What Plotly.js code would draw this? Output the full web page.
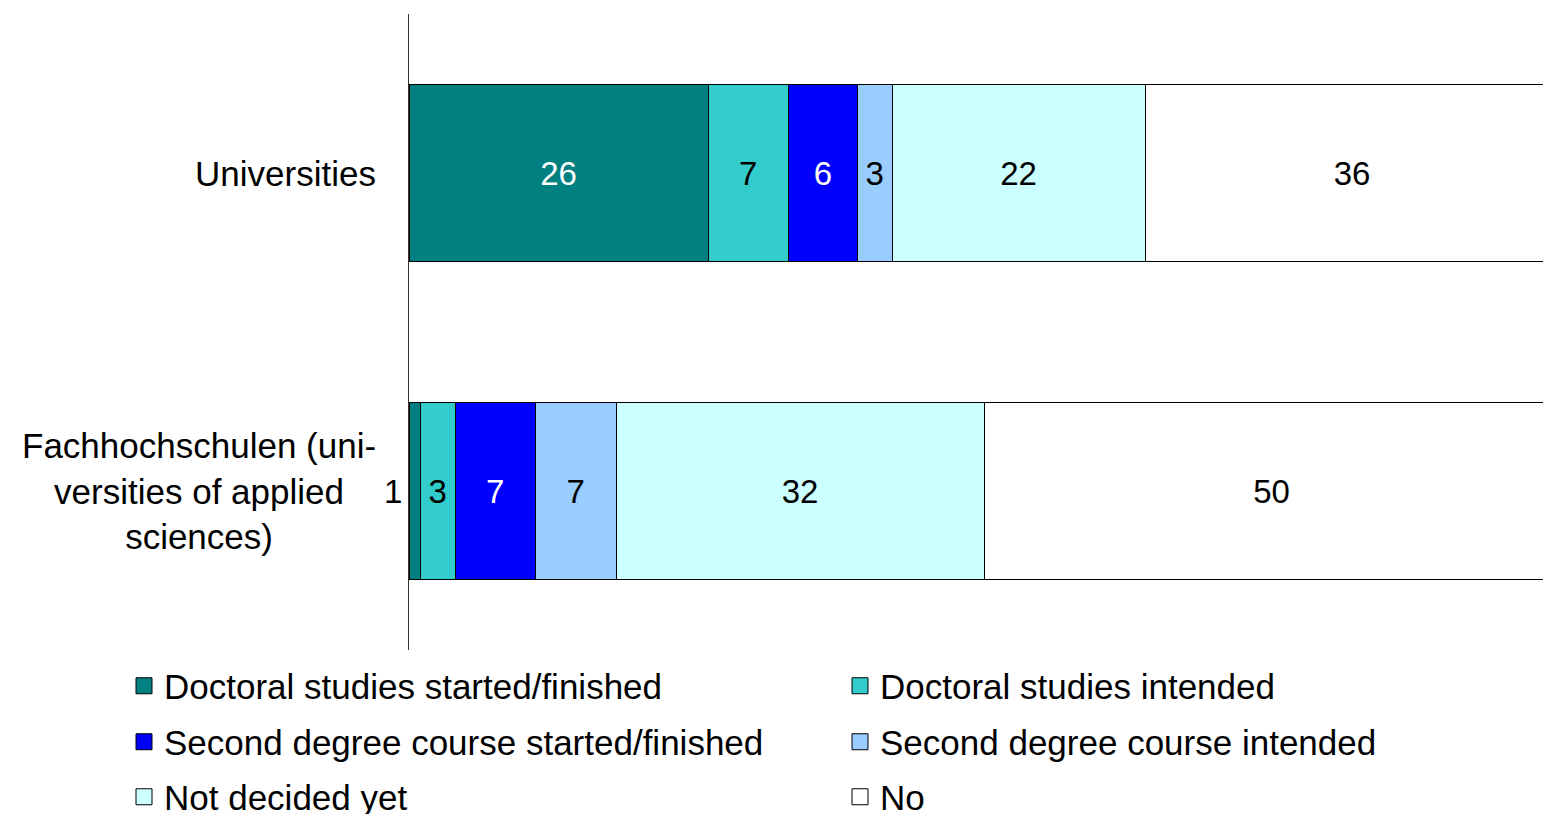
<!DOCTYPE html>
<html>
<head>
<meta charset="utf-8">
<script src="https://cdn.plot.ly/plotly-3.0.1.min.js"></script>
<style>html,body{margin:0;padding:0;background:#fff;}#chart{width:1543px;height:814px;}</style>
</head>
<body>
<div id="chart"></div>
<script>
const categories = ["Universities", "Fachhochschulen (uni-<br>versities of applied<br>sciences)"];
const seriesNames = ["Doctoral studies started/finished", "Doctoral studies intended",
  "Second degree course started/finished", "Second degree course intended",
  "Not decided yet", "No"];
const doctoralStarted = [26, 1];
const doctoralIntended = [7, 3];
const secondStarted = [6, 7];
const secondIntended = [3, 7];
const notDecided = [22, 32];
const noValues = [36, 50];

const seriesValues = [doctoralStarted, doctoralIntended, secondStarted, secondIntended, notDecided, noValues];
const colors = ["#008080", "#33CCCC", "#0000FF", "#99CCFF", "#CCFFFF", "#FFFFFF"];
const textColors = ["#FFFFFF", "#000000", "#FFFFFF", "#000000", "#000000", "#000000"];
const FONT = "Liberation Sans, Arial, sans-serif";
const SMALL = 2; // values too small to be labelled inside their bar

const traces = [];
seriesValues.forEach((vals, i) => {
  traces.push({
    type: "bar", orientation: "h",
    y: categories, x: vals,
    name: seriesNames[i], showlegend: false,
    marker: {color: colors[i], line: {color: "#000000", width: 1}},
    text: vals.map(v => v < SMALL ? "" : String(v)),
    textposition: "inside", insidetextanchor: "middle",
    constraintext: "none",
    textfont: {family: FONT, size: 33, color: textColors[i]},
    hoverinfo: "skip"
  });
});
// legend proxies: one legend per entry, laid out in a 2-column grid
const legendNames = ["legend", "legend2", "legend3", "legend4", "legend5", "legend6"];
seriesNames.forEach((n, i) => {
  traces.push({
    type: "scatter", mode: "markers", x: [null], y: [null],
    name: n, legend: legendNames[i], showlegend: true,
    marker: {symbol: "square", size: 16, color: colors[i], line: {color: "#000000", width: 1}}
  });
});

const annotations = categories.map(c => ({
  xref: "paper", yref: "y", x: 0, y: c, xanchor: "right", yanchor: "middle",
  xshift: -31, text: c, showarrow: false, align: "center",
  font: {family: FONT, size: 35, color: "#000000"}
}));
// small values labelled left of the bar
seriesValues[0].forEach((v, j) => {
  if (v < SMALL) annotations.push({
    xref: "x", yref: "y", x: 0, y: categories[j], xanchor: "right", yanchor: "middle",
    xshift: -5, text: String(v), showarrow: false,
    font: {family: FONT, size: 33, color: "#000000"}
  });
});

const colX = [124 / 1543, 840 / 1543];
const rowY = [1 - 686 / 814, 1 - 742 / 814, 1 - 797 / 814];

const layout = {
  width: 1543, height: 814,
  margin: {l: 409, r: 0, t: 14, b: 164, autoexpand: false},
  paper_bgcolor: "#FFFFFF", plot_bgcolor: "#FFFFFF",
  barmode: "stack", bargap: 0.445,
  showlegend: true,
  xaxis: {range: [0, 98.6], showgrid: false, zeroline: false, showticklabels: false, showline: false, fixedrange: true},
  yaxis: {autorange: "reversed", showgrid: false, zeroline: false, showticklabels: false,
          showline: true, linecolor: "#333333", linewidth: 1.5, ticks: "", fixedrange: true},
  annotations: annotations,
  font: {family: FONT}
};
legendNames.forEach((ln, i) => {
  layout[ln] = {
    orientation: "v", xref: "container", yref: "container",
    x: colX[i % 2], y: rowY[Math.floor(i / 2)], xanchor: "left", yanchor: "middle",
    font: {family: FONT, size: 35, color: "#000000"},
    bgcolor: "rgba(0,0,0,0)", borderwidth: 0, itemclick: false
  };
});

Plotly.newPlot("chart", traces, layout, {displayModeBar: false, staticPlot: true});
</script>
</body>
</html>
